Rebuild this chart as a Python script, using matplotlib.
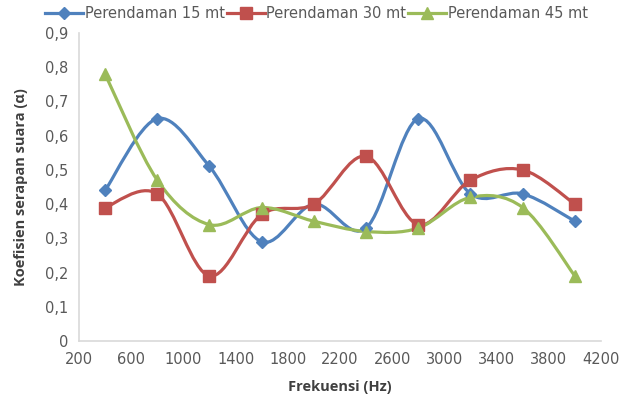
import matplotlib
matplotlib.use("Agg")
import matplotlib.pyplot as plt
from matplotlib.path import Path
from matplotlib.patches import PathPatch
from matplotlib.lines import Line2D
from matplotlib.ticker import FuncFormatter
import numpy as np

plt.rcParams['font.family'] = ['DejaVu Sans']

# Data
frekuensi = [400, 800, 1200, 1600, 2000, 2400, 2800, 3200, 3600, 4000]
rendam_15 = [0.44, 0.65, 0.51, 0.29, 0.40, 0.33, 0.65, 0.43, 0.43, 0.35]
rendam_30 = [0.39, 0.43, 0.19, 0.37, 0.40, 0.54, 0.34, 0.47, 0.50, 0.40]
rendam_45 = [0.78, 0.47, 0.34, 0.39, 0.35, 0.32, 0.33, 0.42, 0.39, 0.19]
labels = ["Perendaman 15 mt", "Perendaman 30 mt", "Perendaman 45 mt"]
colors = ["#4F81BD", "#C0504D", "#9BBB59"]
markers = ["D", "s", "^"]
msizes = [6, 9, 8]


# Garis halus ala Excel (Bezier kubik)
def smooth_path(x, y):
    p = np.column_stack([x, y]).astype(float)
    n = len(p)
    verts = [p[0]]
    codes = [Path.MOVETO]
    for i in range(n - 1):
        p0 = p[i - 1] if i > 0 else p[i]
        p1 = p[i]
        p2 = p[i + 1]
        p3 = p[i + 2] if i + 2 < n else p[i + 1]
        c1 = p1 + (p2 - p0) / 6.0
        c2 = p2 - (p3 - p1) / 6.0
        verts += [c1, c2, p2]
        codes += [Path.CURVE4] * 3
    return Path(verts, codes)


fig = plt.figure(figsize=(6.33, 3.98), dpi=100)
ax = fig.add_axes([0.1248, 0.1432, 0.8246, 0.7738])

handles = []
for yv, lab, c, m, ms in zip([rendam_15, rendam_30, rendam_45], labels, colors, markers, msizes):
    ax.add_patch(PathPatch(smooth_path(frekuensi, yv), facecolor="none",
                           edgecolor=c, lw=2.3, capstyle="round", joinstyle="round"))
    ax.plot(frekuensi, yv, linestyle="none", marker=m, color=c, markersize=ms)
    handles.append(Line2D([], [], color=c, lw=2.3, marker=m, markersize=ms))

ax.set_xlim(200, 4200)
ax.set_ylim(0, 0.9)
ax.set_xticks(np.arange(200, 4201, 400))
ax.set_yticks(np.arange(0, 0.91, 0.1))
ax.yaxis.set_major_formatter(FuncFormatter(
    lambda v, pos: "0" if abs(v) < 1e-9 else ("%.1f" % v).replace(".", ",")))

for s in ["top", "right"]:
    ax.spines[s].set_visible(False)
for s in ["left", "bottom"]:
    ax.spines[s].set_color("#D9D9D9")
    ax.spines[s].set_linewidth(1.2)
ax.tick_params(length=0, labelsize=10.5, labelcolor="#595959", pad=8)

ax.set_xlabel("Frekuensi (Hz)", fontsize=10.5, fontweight="bold", color="#404040",
              labelpad=9, family=["Open Sans", "DejaVu Sans"])
ax.set_ylabel("Koefisien serapan suara (α)", fontsize=10.5, fontweight="bold", color="#404040",
              labelpad=12, family=["Open Sans", "DejaVu Sans"])

fig.legend(handles, labels, loc="center", bbox_to_anchor=(0.5, 0.965), ncol=3,
           frameon=False, fontsize=10.5, handlelength=2.6, handletextpad=0.1,
           columnspacing=0.15, labelcolor="#595959")

fig.savefig("out.png", dpi=100)
